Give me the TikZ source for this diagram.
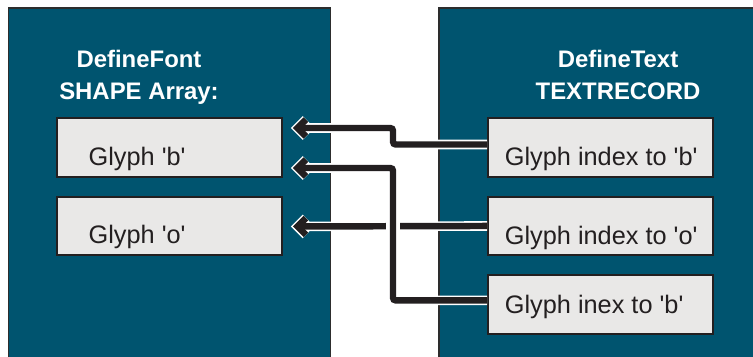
\documentclass[tikz,border=0pt]{standalone}
\usepackage{fontspec}
\setmainfont{Liberation Sans}
\usetikzlibrary{positioning,arrows.meta,calc}

\definecolor{panelblue}{RGB}{0,84,111}
\definecolor{slotgray}{RGB}{233,232,231}
\definecolor{ink}{RGB}{35,31,32}
\definecolor{rim}{RGB}{45,45,45}

\begin{document}
\begin{tikzpicture}[
  x=0.025cm, y=-0.025cm,
  panel/.style={
    draw=rim, line width=1pt, fill=panelblue,
    minimum width=229pt, minimum height=252pt, inner sep=0pt
  },
  head/.style={font=\bfseries\fontsize{17}{22.8}\selectfont, text=white, align=center, inner sep=0pt},
  slot/.style={
    draw=ink, line width=1.4pt, fill=slotgray,
    minimum width=160pt, minimum height=41.8pt, inner sep=0pt
  },
  slottext/.style={font=\fontsize{18}{20}\selectfont, text=ink, inner sep=0pt, anchor=base west},
  link/.style={
    line width=4.6pt, draw=ink, rounded corners=2pt,
    -{Straight Barb[length=6pt,width=12pt,line width=4.6pt]},
    preaction={draw=white, line width=6.8pt, shorten >=-1.5pt,
      -{Straight Barb[length=6pt,width=12pt,line width=6.8pt]}}
  },
  node distance=12.6pt
]
  \useasboundingbox (0,0) rectangle (753,356);

  % Panels
  \node[panel] (fontpanel) at (169.5,185) {};
  \node[panel] (textpanel) at (600,185) {};

  % Panel headings
  \node[head] (fonthead) at (139,77) {DefineFont\\SHAPE Array:};
  \node[head] (texthead) at (618,74.5) {DefineText\\TEXTRECORD};

  % SHAPE array entries
  \node[slot] (gb) at (169.5,147.5) {};
  \node[slot, below=of gb] (go) {};
  \node[slottext] (gbt) at ([xshift=23pt,yshift=9pt]gb.south west) {Glyph \textquotesingle b\textquotesingle};
  \node[slottext] (got) at ([xshift=23pt,yshift=9pt]go.south west) {Glyph \textquotesingle o\textquotesingle};

  % TEXTRECORD entries
  \node[slot] (ib) at (600.5,147.5) {};
  \node[slot, below=of ib] (io) {};
  \node[slot, below=of io] (ib2) {};
  \node[slottext] (ibt)  at ([xshift=12.5pt,yshift=9pt]ib.south west)   {Glyph index to \textquotesingle b\textquotesingle};
  \node[slottext] (iot)  at ([xshift=12.5pt,yshift=8.5pt]io.south west) {Glyph index to \textquotesingle o\textquotesingle};
  \node[slottext] (ib2t) at ([xshift=12.5pt,yshift=15pt]ib2.south west) {Glyph inex to \textquotesingle b\textquotesingle};

  % Index links
  \coordinate (jog) at (393,0);
  \draw[link] ($(ib.west)+(0,-3)$) -- ($(ib.west -| jog)+(0,-3)$) |- ($(gb.east)+(10,-19.5)$);
  \draw[link] (io.west) -- ($(go.east)+(10,0.5)$);
  \draw[white, line width=9.3pt] ($(jog |- io.west)+(0,-8)$) -- ($(jog |- io.west)+(0,8)$);
  \draw[link] ($(ib2.west)+(0,-4)$) -- ($(ib2.west -| jog)+(0,-4)$) |- ($(gb.east)+(10,20.5)$);

\end{tikzpicture}
\end{document}
